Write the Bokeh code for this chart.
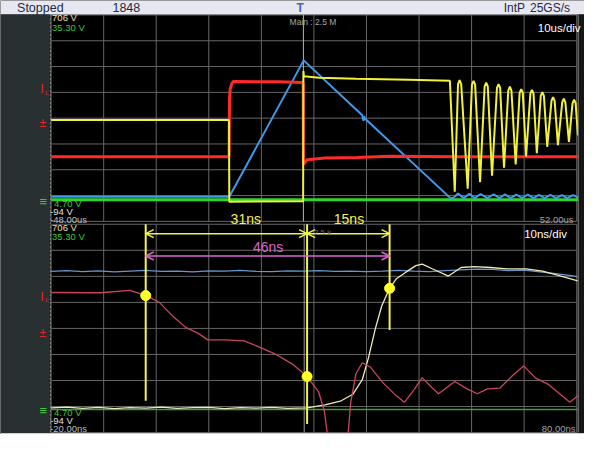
from bokeh.plotting import figure
from bokeh.models import Range1d, Label, Arrow, OpenHead
from bokeh.embed import file_html
from bokeh.resources import INLINE

# ---------------- data ----------------
# Upper pane: time in microseconds (10 us/div), level in divisions (-4..4)
up_ticks_us = [-48, -38, -28, -18, -8, 2, 12, 22, 32, 42, 52]
div_ticks = [-4, -3, -2, -1, 0, 1, 2, 3, 4]

up_yellow_t = [-48, -14.15, -14.1, -0.05, 0.0, 0.1, 3.0, 10.0, 20.0, 27.87,
               28.80, 29.42, 29.72, 30.02, 31.26, 32.07, 32.37, 32.67, 33.61,
               34.48, 34.78, 35.08, 35.89, 36.83, 37.13, 37.43, 38.17, 38.98,
               39.28, 39.58, 40.39, 41.14, 41.44, 41.74, 42.37, 43.18, 43.48,
               43.78, 44.41, 45.16, 45.46, 45.76, 46.39, 47.2, 47.5, 47.8,
               48.43, 49.24, 49.54, 49.84, 50.52, 51.2, 51.5, 51.8, 52.24]
up_yellow_d = [-0.07, -0.07, -3.24, -3.22, 1.83, 1.62, 1.57, 1.53, 1.49, 1.45,
               -2.85, 1.32, 1.47, 1.32, -2.73, 1.30, 1.45, 1.30, -2.48,
               1.23, 1.38, 1.23, -2.23, 1.17, 1.32, 1.17, -1.92, 1.07,
               1.22, 1.07, -1.79, 0.98, 1.13, 0.98, -1.48, 0.95, 1.10,
               0.95, -1.36, 0.86, 1.01, 0.86, -1.11, 0.67, 0.82, 0.67,
               -1.05, 0.61, 0.76, 0.61, -0.92, 0.57, 0.72, 0.57, -0.67]

up_red_t = [-48, -14.15, -14.05, -13.93, -13.6, -13.31, -5.0, -0.05, 0.0,
            0.7, 4.09, 10.28, 16.44, 30.0, 52.2]
up_red_d = [-1.50, -1.50, 0.80, 1.13, 1.35, 1.42, 1.41, 1.38, -1.79,
            -1.61, -1.54, -1.52, -1.48, -1.50, -1.50]

up_blue_t = [-48, -14.1, 0.05, 11.2, 11.42, 11.55, 11.75, 27.87,
             28.5, 29.41, 30.5, 31.57, 32.6, 33.72, 35.0, 36.2, 37.3, 38.35,
             39.4, 40.52, 41.6, 42.69, 43.8, 44.83, 45.9, 47.0, 48.1, 49.17,
             50.2, 51.32, 52.3]
up_blue_d = [-3.05, -3.05, 2.24, 0.11, -0.10, 0.07, -0.02, -3.08,
             -3.10, -2.92, -3.10, -2.93, -3.10, -2.94, -3.10, -2.95, -3.10, -2.95,
             -3.10, -2.96, -3.10, -2.96, -3.10, -2.97, -3.10, -2.97, -3.10, -2.98,
             -3.10, -2.98, -3.08]

up_green_t = [-48, 52.3]
up_green_d = [-3.16, -3.16]

# Lower pane: time in nanoseconds (10 ns/div), level in divisions
low_ticks_ns = [-20, -10, 0, 10, 20, 30, 40, 50, 60, 70, 80]

low_yellow_t = [-20, -17, -14, -11, -8, -5, -2, 1, 4, 7, 10, 13, 16, 19, 22, 25,
                28.7, 32.1, 35.2, 37.4, 39.2, 40.4, 41.7, 42.9, 44.4, 45.7, 47.5,
                49.4, 50.6, 52.5, 55.6, 58.0, 60.5, 63.6, 66.7, 70.4, 73.5, 76.5, 80.2]
low_yellow_d = [-3.05, -3.02, -3.07, -3.03, -3.08, -3.04, -3.06, -3.02, -3.07,
                -3.04, -3.03, -3.08, -3.04, -3.06, -3.03, -3.07,
                -3.05, -2.94, -2.78, -2.53, -1.97, -1.11, 0.0, 0.86, 1.54, 1.91, 2.16,
                2.41, 2.47, 2.29, 2.01, 2.34, 2.37, 2.34, 2.29, 2.29, 2.20, 2.04, 1.83]

low_red_t = [-20.0, -10.6, -5.0, -1.9, 0.6, 3.1, 5.6, 8.0, 9.8, 13.0, 16.7, 19.1,
             22.8, 25.9, 28.7, 30.9, 32.0, 32.7, 36.4, 37.0, 38.0, 39.2, 40.7,
             43.2, 45.7, 47.2, 49.1, 50.6, 52.2, 53.7, 56.8, 59.3, 61.1, 63.0,
             65.4, 67.9, 69.9, 72.2, 74.7, 77.2, 78.7, 80.2]
low_red_d = [1.38, 1.37, 1.46, 1.26, 1.00, 0.48, 0.04, -0.19, -0.44, -0.44, -0.48,
             -0.67, -1.00, -1.37, -1.85, -2.44, -3.19, -4.30, -4.30, -2.85, -1.74,
             -1.32, -1.48, -2.10, -2.59, -2.84, -2.34, -1.89, -2.22, -2.51, -2.04,
             -2.34, -2.51, -2.32, -2.29, -1.79, -1.44, -1.91, -2.16, -2.59, -2.84, -2.59]

low_blue_t = [-20, -17, -14, -11, -8, -5, -2, 1, 4, 7, 10, 13, 16, 19, 22, 25, 28,
              31, 34, 37, 40, 43, 46, 49, 52, 55, 58, 61, 64, 67, 70, 73, 76, 79, 80.2]
low_blue_d = [2.19, 2.22, 2.18, 2.21, 2.17, 2.20, 2.23, 2.19, 2.20, 2.17, 2.21,
              2.20, 2.23, 2.19, 2.18, 2.21, 2.20, 2.22, 2.19, 2.20, 2.18, 2.20,
              2.23, 2.20, 2.18, 2.22, 2.25, 2.28, 2.27, 2.22, 2.24, 2.17, 2.10,
              2.03, 1.98]

low_green_t = [-20, 80.2]
low_green_d = [-3.11, -3.11]

cursor_t = [-2.0, 28.7, 44.4]
cursor_bottom = [-2.78, -3.67, -0.06]
cursor_top = [4.0, 4.0, 4.0]
dot_d = [1.26, -1.85, 1.54]
delta_labels = ["31ns", "15ns", "46ns"]

# ---------------- layout ----------------
W, H = 584, 434
PX_US = 5.4      # reference px per microsecond (and per ns in the lower pane)
PX_DIV = 26.75   # reference px per division (upper pane)
US_RANGE = (-48 - 52 / PX_US, 52 + 8 / PX_US)
NS_RANGE = (-20 - 52 / PX_US, 80 + 8 / PX_US)
UP_RANGE = (-4 - 221 / PX_DIV, 4 + 15 / PX_DIV)
LOW_RANGE = (-4 - 2 / 27.0, 4 + 232 / 27.0)
FONT = "Liberation Sans"


def ux(rx):
    return US_RANGE[0] + rx / PX_US


def uy(ry):
    return UP_RANGE[1] - ry / PX_DIV


p = figure(width=W, height=H, x_range=Range1d(*US_RANGE), y_range=Range1d(*UP_RANGE),
           output_backend="svg", toolbar_location=None,
           x_axis_location=None, y_axis_location=None, min_border=0,
           background_fill_color="black", border_fill_color="black",
           outline_line_color=None)
p.extra_x_ranges = {"ns": Range1d(*NS_RANGE)}
p.extra_y_ranges = {"low": Range1d(*LOW_RANGE)}
p.grid.visible = False

GRID = "#666666"
# upper grid
p.segment(x0=up_ticks_us, x1=up_ticks_us, y0=[-4] * len(up_ticks_us), y1=[4] * len(up_ticks_us),
          line_color=GRID, line_width=1)
p.segment(x0=[-48] * len(div_ticks), x1=[52] * len(div_ticks), y0=div_ticks, y1=div_ticks,
          line_color=GRID, line_width=1)
# lower grid
p.segment(x0=low_ticks_ns, x1=low_ticks_ns, y0=[-4] * len(low_ticks_ns), y1=[4] * len(low_ticks_ns),
          line_color=GRID, line_width=1, x_range_name="ns", y_range_name="low")
p.segment(x0=[-20] * len(div_ticks), x1=[80] * len(div_ticks), y0=div_ticks, y1=div_ticks,
          line_color=GRID, line_width=1, x_range_name="ns", y_range_name="low")

# trigger reference lines
p.segment(x0=[0], x1=[0], y0=[-4], y1=[4], line_color="#b4b4b4", line_width=1)
p.segment(x0=[28.15], x1=[28.15], y0=[-4], y1=[4], line_color="#9a9a9a", line_width=1,
          x_range_name="ns", y_range_name="low")

# upper traces
p.line(up_green_t, up_green_d, line_color="#2fd52f", line_width=3)
p.line(up_blue_t, up_blue_d, line_color="#3d9bea", line_width=2)
p.line(up_red_t, up_red_d, line_color="#ff2a2a", line_width=3)
p.line(up_yellow_t, up_yellow_d, line_color="#f2f23a", line_width=2)

# lower traces
p.line(low_green_t, low_green_d, line_color="#3a9e3a", line_width=1.5,
       x_range_name="ns", y_range_name="low")
p.line(low_blue_t, low_blue_d, line_color="#6b95c8", line_width=1.3,
       x_range_name="ns", y_range_name="low")
p.line(low_yellow_t, low_yellow_d, line_color="#ecebb4", line_width=1.3,
       x_range_name="ns", y_range_name="low")
p.line(low_red_t, low_red_d, line_color="#c8485a", line_width=1.3,
       x_range_name="ns", y_range_name="low")

# cursors and markers
p.segment(x0=cursor_t, x1=cursor_t, y0=cursor_bottom, y1=cursor_top,
          line_color="#f4f44a", line_width=2, x_range_name="ns", y_range_name="low")
p.scatter(cursor_t, dot_d, size=10, fill_color="#ffff2a", line_color="#ffff2a",
          x_range_name="ns", y_range_name="low")

YEL = "#f4f44a"
MAG = "#d868d0"
for a, b in [(cursor_t[0], cursor_t[1]), (cursor_t[1], cursor_t[2])]:
    p.add_layout(Arrow(start=OpenHead(size=8, line_color=YEL, line_width=1.5),
                       end=OpenHead(size=8, line_color=YEL, line_width=1.5),
                       x_start=a, y_start=3.64, x_end=b, y_end=3.64,
                       line_color=YEL, line_width=1.5,
                       x_range_name="ns", y_range_name="low"))
p.add_layout(Arrow(start=OpenHead(size=8, line_color=MAG, line_width=1.5),
                   end=OpenHead(size=8, line_color=MAG, line_width=1.5),
                   x_start=cursor_t[0], y_start=2.78, x_end=cursor_t[2], y_end=2.78,
                   line_color=MAG, line_width=1.5,
                   x_range_name="ns", y_range_name="low"))

# decorations: top bar, left panel, right strip, bottom strip
p.quad(left=[US_RANGE[0]], right=[US_RANGE[1]], bottom=[uy(14.5)], top=[UP_RANGE[1]],
       fill_color="#e6e7f0", line_color=None)
p.quad(left=[US_RANGE[0]], right=[ux(50.5)], bottom=[UP_RANGE[0]], top=[uy(14.5)],
       fill_color="#283032", line_color=None)
p.segment(x0=[ux(51.2)], x1=[ux(51.2)], y0=[uy(448)], y1=[uy(14.5)],
          line_color="#8c8c8c", line_width=1, line_dash="3 1")
p.quad(left=[ux(593.5)], right=[US_RANGE[1]], bottom=[UP_RANGE[0]], top=[uy(14.5)],
       fill_color="#161616", line_color=None)
p.segment(x0=[ux(593.5)], x1=[ux(593.5)], y0=[uy(448)], y1=[uy(14.5)],
          line_color="#8a8a8a", line_width=1)
p.quad(left=[US_RANGE[0]], right=[US_RANGE[1]], bottom=[UP_RANGE[0]], top=[uy(448.5)],
       fill_color="#cfd0d6", line_color=None)


def lab(text, rx, ry, color, size, align="left", style="normal"):
    p.add_layout(Label(x=ux(rx), y=uy(ry), text=text, text_color=color,
                       text_font=FONT, text_font_size=f"{size}px", text_align=align,
                       text_baseline="middle", text_font_style=style))


# top bar
lab("Stopped", 17, 7.5, "#1e2b4d", 12.5)
lab("1848", 115, 7.5, "#1e2b4d", 12.5)
lab("IntP", 517, 7.5, "#1e2b4d", 12)
lab("25GS/s", 544, 7.5, "#1e2b4d", 12)
lab("T", 308, 8, "#3a6cb0", 12, "center", "bold")

# upper pane texts
lab("706 V", 53, 18, "#e6e2b8", 9.5)
lab("35.30 V", 53, 28, "#3cc83c", 9.5)
lab("Main : 2.5 M", 297, 22, "#a8a8a8", 8.5)
lab("10us/div", 552, 28, "#ffffff", 11.5)
lab("4.70 V", 55, 210, "#3cc83c", 9.5)
lab("-94 V", 51, 219, "#e0e0e0", 9.5)
lab("-48.00us", 51, 227, "#bdbdbd", 9.5)
lab("52.00us", 554, 227, "#a0a0a0", 9.5)

# lower pane texts
lab("706 V", 53, 235, "#e6e2b8", 9.5)
lab("35.30 V", 53, 245, "#3cc83c", 9.5)
lab("10ns/div", 538, 242, "#ffffff", 11.5)
lab("4.70 V", 55, 427, "#3cc83c", 9.5)
lab("-94 V", 51, 435, "#e0e0e0", 9.5)
lab("-20.00ns", 51, 443.5, "#bdbdbd", 9.5)
lab("80.00ns", 556, 444, "#a0a0a0", 9.5)
lab("2.5 k", 322, 241, "#6e6e6e", 8)

# measurement labels
lab(delta_labels[0], 252, 227, YEL, 14, "center")
lab(delta_labels[1], 358, 227, YEL, 14, "center")
lab(delta_labels[2], 275, 256, MAG, 14, "center")

# channel markers on the left panel
for ry in (92, 307):
    lab("I", 41, ry, "#e02828", 12, "left")
    lab("L", 46, ry + 4, "#e02828", 6, "left")
for ry in (127, 345):
    lab("±", 40, ry, "#e02828", 12, "left")
for ry in (208, 425):
    lab("≡", 40, ry, "#3cc83c", 13, "left")

open("out.html", "w").write(file_html(p, INLINE))
